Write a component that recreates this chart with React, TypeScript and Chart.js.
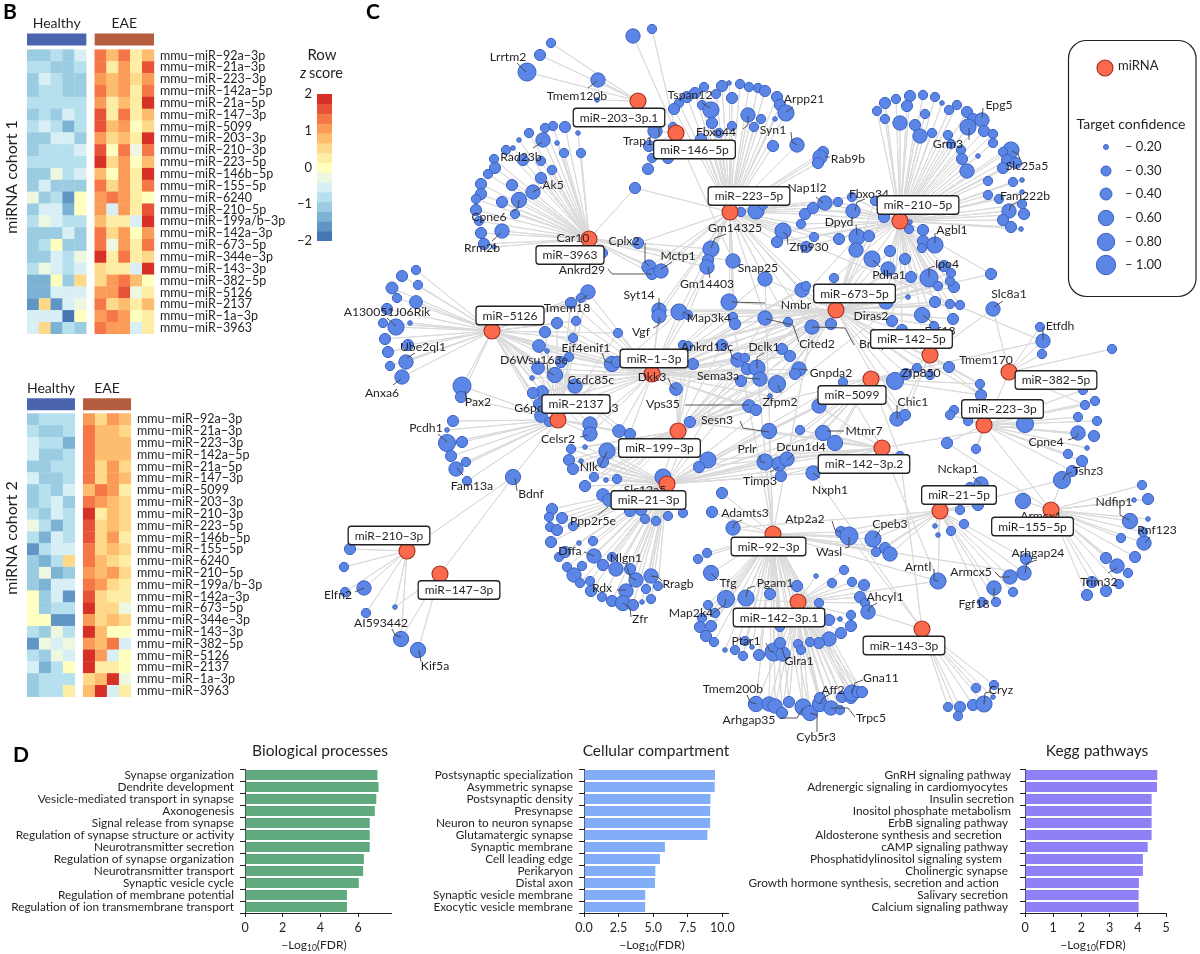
import React, { useEffect, useRef } from "react";
import { Chart, registerables } from "chart.js";
Chart.register(...registerables);

const FONT = "Lato";
const INK = "#231f20";

// ---------- Panel B ----------
const mirnaRows = ["mmu−miR−92a−3p","mmu−miR−21a−3p","mmu−miR−223−3p","mmu−miR−142a−5p","mmu−miR−21a−5p","mmu−miR−147−3p","mmu−miR−5099","mmu−miR−203−3p","mmu−miR−210−3p","mmu−miR−223−5p","mmu−miR−146b−5p","mmu−miR−155−5p","mmu−miR−6240","mmu−miR−210−5p","mmu−miR−199a/b−3p","mmu−miR−142a−3p","mmu−miR−673−5p","mmu−miR−344e−3p","mmu−miR−143−3p","mmu−miR−382−5p","mmu−miR−5126","mmu−miR−2137","mmu−miR−1a−3p","mmu−miR−3963"];
const heatPalette = ["#4575b4","#6095c5","#7cb3d4","#9bcce2","#b6e0ed","#d9eff6","#eef8e0","#ffffbf","#feeda4","#fed989","#fdbc6e","#fa9c58","#f57647","#e85337","#d73027"];
const zCohort1 = [
[-1.1,-1.1,-.9,-1.1,-.6,1.4,.9,1.4,.3,.9],
[-.9,-.9,-1.1,-1.1,-.9,1.4,.3,1.1,.3,1.7],
[-1.1,-.6,-.9,-1.1,-1.1,1.1,.9,1.1,.6,1.1],
[-1.1,-.9,-.9,-1.1,-1.1,1.4,.9,1.1,.3,1.4],
[-.9,-.9,-.9,-.9,-.9,1.1,.3,.9,.3,2],
[-1.1,-.9,-1.1,-.6,-.9,1.7,.3,1.4,.3,.9],
[-.9,-.6,-.9,-1.4,-.9,1.7,.9,1.1,0,.6],
[-1.1,-1.1,-.6,-.6,-1.1,1.1,.6,.9,.3,2],
[-1.1,-.9,-.9,-.9,-.6,1.7,0,1.4,-.3,1.4],
[-.9,-.9,-.9,-.9,-.9,2,.6,1.1,0,.9],
[-1.1,-1.1,-.3,-.9,-.6,.9,0,1.1,.3,2],
[-1.1,-.6,-1.1,-1.1,-1.1,1.4,.6,1.1,.3,1.4],
[-.3,-1.1,-.9,-1.7,0,1.1,1.4,1.1,.3,0],
[-1.1,-.6,-.6,-1.4,0,1.1,-.6,1.1,.3,1.7],
[-.9,-.3,-.6,-.9,-.9,.9,.3,.3,-.6,2],
[-1.1,-1.1,-1.1,-.6,-1.1,1.4,.6,1.1,0,1.1],
[-1.1,-.9,0,-1.1,-1.1,1.4,-.3,1.1,.3,1.4],
[-1.1,-1.1,-.6,-.9,-.3,2,.3,1.4,.3,.6],
[-.9,-.3,-.6,-.9,-.6,.6,.3,.3,-.6,2],
[-1.4,-1.4,0,-1.1,.6,.6,1.1,1.4,.9,0],
[-1.4,-1.4,-.6,-.6,-.6,1.1,1.1,1.7,-.3,.3],
[-1.7,.6,-1.7,-.6,-.3,1.4,.6,.9,.3,.9],
[-.6,-.6,-.6,-2,0,1.1,1.4,1.1,0,.3],
[-.6,.6,-1.4,-.9,-1.1,1.4,1.1,1.1,-.6,.3],
];
const zCohort2 = [
[-1.1,-.9,-.9,-.9,1.1,.6,1.1,.9],
[-.9,-1.1,-1.1,-.9,1.4,.9,.9,.6],
[-.6,-.9,-.9,-1.4,1.4,.9,.9,.9],
[-.6,-1.1,-1.1,-.9,1.4,.9,.9,.9],
[-1.1,-1.1,-.9,-.9,1.4,.6,1.1,.6],
[-.6,-1.1,-1.1,-.9,1.4,.6,1.1,.9],
[-1.1,-.9,-1.1,-.6,.9,1.4,1.1,.3],
[-1.1,-.9,-.6,-1.1,1.4,1.1,.9,.6],
[-.9,-1.1,-.6,-.9,2,.3,.9,.6],
[-.3,-.9,-1.4,-.9,1.7,.6,.9,.6],
[-.9,-1.4,-.6,-.9,1.7,.6,1.1,.3],
[-1.7,-.9,-.6,-.6,1.4,.6,.9,.6],
[-1.1,-1.4,-.9,.6,1.4,.9,.6,.3],
[-1.1,-.3,-1.4,-1.1,1.1,.9,1.1,.6],
[-1.1,-1.4,-.6,-.6,1.4,1.1,.6,.3],
[0,-1.1,-.6,-1.7,1.7,.6,.3,.3],
[0,-1.1,-.9,-.9,2,.6,.6,-.3],
[0,0,-1.7,-1.7,1.1,.6,.9,.6],
[-.9,-1.1,-.3,-.9,2,.9,0,0],
[-1.7,-.3,-.6,-.3,1.1,.9,1.4,-.6],
[-.9,-1.1,-.3,-.6,2,1.1,-.6,0],
[-.6,-1.4,-.9,0,2,.3,.3,0],
[-1.1,-.9,-.9,-.9,.6,.9,2,-.3],
[-1.1,-.9,-.9,.3,.9,2,-.6,.3],
];
const colorTicks = [-2,-1,0,1,2];

// ---------- Panel D ----------
const bpLabels = ["Synapse organization","Dendrite development","Vesicle-mediated transport in synapse","Axonogenesis","Signal release from synapse","Regulation of synapse structure or activity","Neurotransmitter secretion","Regulation of synapse organization","Neurotransmitter transport","Synaptic vesicle cycle","Regulation of membrane potential","Regulation of ion transmembrane transport"];
const bpValues = [7.03,7.09,6.97,6.89,6.62,6.62,6.62,6.31,6.27,6.04,5.41,5.41];
const ccLabels = ["Postsynaptic specialization","Asymmetric synapse","Postsynaptic density","Presynapse","Neuron to neuron synapse","Glutamatergic synapse","Synaptic membrane","Cell leading edge","Perikaryon","Distal axon","Synaptic vesicle membrane","Exocytic vesicle membrane"];
const ccValues = [9.47,9.45,9.14,9.12,9.12,8.92,5.85,5.49,5.16,5.13,4.42,4.42];
const keggLabels = ["GnRH signaling pathway ","Adrenergic signaling in cardiomyocytes  ","Insulin secretion","Inositol phosphate metabolism ","ErbB signaling pathway  ","Aldosterone synthesis and secretion    ","cAMP signaling pathway  ","Phosphatidylinositol signaling system    ","Cholinergic synapse  ","Growth hormone synthesis, secretion and action     ","Salivary secretion  ","Calcium signaling pathway  "];
const keggValues = [4.69,4.68,4.49,4.49,4.49,4.49,4.35,4.18,4.18,4.04,4.03,4.03];

// ---------- Panel C: hubs ----------
const hubNames = ["miR−203−3p.1","miR−146−5p","miR−223−5p","miR−210−5p","miR−3963","miR−5126","miR−673−5p","miR−142−5p","miR−1−3p","miR−5099","miR−382−5p","miR−223−3p","miR−2137","miR−199−3p","miR−142−3p.2","miR−21−3p","miR−21−5p","miR−155−5p","miR−92−3p","miR−210−3p","miR−147−3p","miR−142−3p.1","miR−143−3p"];
const hubX = [638,676,730,900,589,492,836,930,652,871,1009,984,558,678,882,667,940,1051,773,407,440,798,922];
const hubY = [101,133,212,221,239,331,310,355,374,379,372,425,420,431,448,484,511,510,534,551,574,602,629];
const boxX = [619,694.5,749,918,570,510,854.5,911.5,654,852,1056,1002.5,576,659.5,864,648.5,959,1032.5,768.5,389,459,779,904];
const boxY = [117.5,149.5,196,205,255,315.5,293.5,339,358.5,395,380,409,404,448,464,500,495,526.5,546.5,535.5,590,617.5,645.5];

// target nodes [x, y, confidence], grouped by the hubs they link to
const n203 = [[551,43,.3],[540,55,.4],[527,72,1],[598,80,.6],[597,100,.2]];
const n146 = [[652,29,.3],[633,36,.6],[673,127,.3],[655,131,.6],[649,146,.4],[652,158,.3],[648,169,.4],[668,158,.4]];
const nArc = [[704,87,.3],[722,86,.4],[729,83,.2],[740,84,.3],[749,87,.3],[758,88,.3],[765,91,.4],[777,97,.4],[780,105,.4],[786,113,.8],[775,119,.2],[761,119,.3],[754,127,.3],[748,115,.6],[732,98,.4],[716,94,.3],[695,93,.4],[687,97,.4],[679,103,.3],[674,109,.4],[702,105,.3],[711,110,.8],[712,123,.4],[732,126,.3],[719,133,.3],[701,139,.4],[741,212,.3],[756,211,.8],[763,205,.3],[773,146,.4],[797,145,.6],[823,152,.4],[820,157,.6],[818,163,.4]];
const nUp = [[805,214,.4],[813,208,.4],[825,203,.6],[838,202,.3],[783,231,.8],[777,242,.4],[801,224,.3],[814,237,.3],[839,239,.4],[806,247,.4],[852,197,.3],[853,211,.6]];
const n210fan = [[877,111,.3],[885,103,.4],[896,99,.3],[910,96,.4],[923,95,.3],[935,97,.3],[942,103,.2],[949,110,.3],[957,105,.3],[967,112,.4],[973,119,.4],[982,120,.6],[968,127,.8],[984,131,.4],[993,134,.3],[993,143,.3],[885,119,.3],[900,123,.6],[907,106,.4],[925,114,.3],[915,125,.4],[920,136,.6],[932,133,.3],[948,135,.3],[951,144,.3],[961,150,.3],[962,159,.4],[978,156,.2],[967,171,.6],[1011,150,.8],[1003,152,.3],[1007,160,.4],[1016,163,.4],[1003,168,.4],[988,181,.3],[1013,182,.3],[1022,180,.2],[1022,192,.2],[988,195,.3],[999,199,.3],[1022,204,.3],[1009,211,.6],[1024,214,.4],[1003,220,.4],[1011,227,.4],[1021,229,.2],[910,222,.2],[909,229,.3],[923,230,.4],[923,241,.4],[922,248,.3],[935,245,.8],[991,274,.4]];
const n210mid = [[875,201,.3],[884,217,.4],[857,237,.8],[869,236,.4],[856,250,.6],[872,259,.8],[890,251,.4],[905,259,.4],[888,269,.6],[911,277,.4],[929,278,1],[834,278,.3],[886,302,.6],[908,297,.2],[938,286,.3],[935,302,.4],[950,304,.3],[960,305,.3],[954,287,.4],[950,281,.3],[951,273,.3],[944,266,.4],[922,315,.7],[892,321,.4],[953,319,.4],[934,326,.3],[902,330,.4]];
const n3963 = [[565,127,.4],[553,126,.3],[545,128,.3],[529,133,.3],[543,140,.6],[519,140,.2],[578,133,.2],[557,143,.2],[506,150,.3],[513,148,.2],[564,153,.3],[581,153,.3],[523,160,.4],[541,161,.3],[494,159,.3],[495,168,.4],[552,170,.3],[488,174,.3],[541,178,.4],[512,185,.4],[481,184,.4],[481,194,.4],[533,192,.6],[476,199,.3],[502,202,.4],[519,200,.7],[476,210,.4],[515,214,.3],[479,221,.3],[481,233,.4],[502,231,.6],[484,244,.4],[494,247,.2],[603,253,.3]];
const nA = [[635,188,.4],[638,243,.4],[649,267,.6],[652,274,.4],[661,271,.6],[711,249,.8],[708,260,.4],[707,267,.6],[733,261,.6]];
const nB = [[729,302,.8],[679,312,.8],[688,315,.3],[659,310,.6],[659,316,.6],[733,317,.3],[735,324,.4],[765,279,.6],[802,290,.6],[806,286,.3],[765,318,.6],[788,322,.3],[812,327,.6],[831,324,.4]];
const nC = [[683,345,.3],[688,346,.3],[722,345,.4],[693,364,.4],[738,360,.6],[745,358,.3],[747,369,.4],[757,368,.8],[760,379,.6],[741,381,.4],[782,349,.4],[790,356,.4],[777,384,.9],[799,369,.6],[795,374,.4],[770,396,.2],[749,406,.5],[756,410,.4],[676,389,.5]];
const nD = [[819,406,.6],[823,433,.7],[835,443,.7],[800,430,.3],[769,431,.7],[708,460,.8],[699,467,.4],[765,462,.8],[779,464,.6],[787,459,.6],[781,476,.4],[813,473,.6],[690,422,.4],[843,382,.3],[900,456,.3]];
const nE = [[588,292,.6],[581,298,.3],[571,303,.4],[576,321,.3],[557,323,.4],[573,338,.3],[618,333,.3],[545,332,.4],[539,346,.5],[547,351,.2],[561,362,.4],[569,357,.3],[612,364,.7],[617,362,.4],[555,375,.7],[575,386,.6],[538,368,.5],[532,378,.2],[542,392,.5],[533,393,.4],[539,404,.4],[541,416,.5],[549,422,.3],[590,424,.6],[590,434,.6],[619,431,.5],[630,434,.4]];
const n5126 = [[416,270,.3],[402,276,.4],[392,288,.45],[418,285,.3],[397,298,.3],[416,302,.5],[387,309,.4],[396,327,.8],[383,323,.3],[410,323,.2],[385,339,.4],[388,352,.4],[408,345,.4],[406,362,.6],[390,366,.3],[402,377,.6]];
const nPax = [[462,386,1],[461,397,.4]];
const n2137 = [[453,421,.4],[447,430,.2],[462,442,.4],[447,443,.9],[451,456,.4],[466,462,.3],[456,469,.6],[467,481,.3]];
const nBdnf = [[513,477,.7]];
const n210l = [[350,549,.4],[344,567,.3],[364,588,.6],[345,592,.3],[366,613,.3]];
const n147 = [[395,607,.2],[401,639,.7]];
const n147b = [[418,650,.7]];
const n199a = [[571,449,.3],[585,447,.2],[607,451,.8],[603,462,.4],[569,460,.4],[581,461,.2],[573,469,.4],[594,477,.3],[606,480,.2],[617,479,.3],[585,486,.4],[603,495,.5],[609,500,.5],[663,477,.8]];
const n21a = [[630,511,.4],[641,510,.4],[645,519,.3],[656,521,.3],[668,516,.3],[683,513,.3],[552,509,.4],[549,517,.3],[562,518,.4],[550,527,.3],[557,530,.4],[573,526,.3],[551,542,.4],[579,543,.2],[593,541,.3],[559,557,.3],[565,552,.4],[594,556,.6],[612,557,.3],[567,567,.3],[582,566,.3],[574,575,.6],[603,565,.4],[616,569,.6],[630,569,.4],[636,580,.6],[651,576,.6],[658,586,.3],[646,589,.3],[651,599,.3],[590,581,.3],[580,583,.3],[591,591,.4],[626,591,.6],[602,597,.3],[612,601,.4],[623,603,.7],[633,605,.4],[642,602,.2]];
const n92 = [[722,493,.4],[712,512,.4],[733,528,.6],[707,553,.3],[698,559,.3],[711,573,.7],[726,599,.9],[746,598,.8],[708,605,.3],[715,613,.3],[702,618,.3],[700,627,.4],[711,626,.4],[706,636,.4],[714,642,.3],[725,650,.2],[735,650,.3],[743,656,.3],[752,647,.2],[759,655,.4],[745,641,.3],[770,594,.4],[774,652,1],[783,654,.6],[780,643,.4],[780,627,.3]];
const n142a = [[798,644,.3],[801,650,.3],[797,586,.4],[819,603,.3],[844,570,.3],[816,576,.2],[832,583,.3],[852,582,.3],[864,585,.4],[860,597,.4],[865,603,.3],[851,615,.3],[840,619,.2],[829,620,.4],[851,626,.4],[841,633,.4],[829,639,.6],[819,643,.4],[810,642,.3]];
const nBottom = [[756,704,.7],[769,704,.6],[775,706,.6],[782,713,.4],[789,702,.4],[803,707,.8],[810,713,.7],[820,704,.7],[820,698,.4],[831,708,.6],[840,710,.3],[842,697,.4],[851,698,.4],[852,693,.8],[857,692,.4],[862,692,.4]];
const n143 = [[948,707,.3],[960,707,.4],[958,716,.3],[973,705,.4],[984,704,.8],[993,697,.2],[994,685,.3],[976,688,.3],[868,612,.6]];
const n142e = [[895,381,.9],[906,374,.4],[917,368,.3],[930,375,.3],[949,367,.4],[897,419,.6],[905,415,.4],[980,384,.3],[981,395,.4]];
const n382 = [[1040,327,.3],[1043,341,.6],[1042,354,.3],[1112,349,.3],[993,309,.6]];
const n223 = [[1083,390,.3],[1085,405,.3],[1095,401,.3],[1078,417,.3],[1097,421,.3],[1078,433,.6],[1094,436,.4],[1087,448,.2],[1068,454,.3],[1082,461,.4],[1072,471,.4],[1025,424,.9],[968,421,.3],[954,410,.3],[950,415,.3],[947,443,.4],[976,449,.3]];
const n155 = [[1142,485,.3],[1148,499,.4],[1134,500,.2],[1130,521,.7],[1148,519,.2],[1121,538,.3],[1144,543,.6],[1143,532,.3],[1135,557,.4],[1106,558,.4],[1117,566,.6],[1128,573,.3],[1092,582,.4],[1119,584,.3],[1106,591,.4],[1087,595,.4],[1023,501,.7],[1062,480,.9]];
const n21b = [[981,484,.6],[970,487,.3],[978,505,.4],[960,510,.3],[964,524,.3],[935,526,.2],[938,535,.2],[951,531,.3],[1026,559,.4],[1024,573,.6],[1010,577,.6],[1013,592,.3],[994,588,.6],[996,602,.3],[982,602,.3]];
const n92r = [[841,532,.4],[849,536,1],[873,539,.8],[885,548,.4],[890,554,.6],[876,552,.3],[938,581,.8]];

// which miRNAs each node group links to
const nodeGroups = [
  { hubs: [0], nodes: n203 },
  { hubs: [1], nodes: n146 },
  { hubs: [2], nodes: nArc },
  { hubs: [2, 3], nodes: nUp },
  { hubs: [3], nodes: n210fan },
  { hubs: [3, 6], nodes: n210mid },
  { hubs: [4], nodes: n3963 },
  { hubs: [4, 2], nodes: nA },
  { hubs: [2, 6, 8], nodes: nB },
  { hubs: [8, 6, 13], nodes: nC },
  { hubs: [9, 14, 15], nodes: nD },
  { hubs: [12, 5, 8], nodes: nE },
  { hubs: [5], nodes: n5126 },
  { hubs: [5, 12], nodes: nPax },
  { hubs: [12], nodes: n2137 },
  { hubs: [12, 19, 20], nodes: nBdnf },
  { hubs: [19], nodes: n210l },
  { hubs: [19, 20], nodes: n147 },
  { hubs: [20], nodes: n147b },
  { hubs: [13, 15], nodes: n199a },
  { hubs: [15], nodes: n21a },
  { hubs: [18], nodes: n92 },
  { hubs: [21], nodes: n142a },
  { hubs: [18, 21], nodes: nBottom },
  { hubs: [22], nodes: n143 },
  { hubs: [7, 9, 6], nodes: n142e },
  { hubs: [10], nodes: n382 },
  { hubs: [11], nodes: n223 },
  { hubs: [17], nodes: n155 },
  { hubs: [16], nodes: n21b },
  { hubs: [18, 16], nodes: n92r },
];
// extra long links [hub index, x, y]
const crossLinks = [[18,729,302],[18,765,279],[8,707,267],[15,834,278],[13,857,237],[13,872,259],[15,765,318],[18,812,327],[18,757,368],[18,769,431],[18,765,462],[15,929,278],[14,1025,424],[11,1051,510],[17,947,443],[7,993,309],[16,1062,480],[22,900,456],[22,813,473],[14,938,581],[21,938,581],[16,733,528],[18,1024,573],[12,679,312],[13,777,384],[15,823,433],[9,1043,341],[6,991,274],[2,1043,341],[0,676,133],[1,733,261],[10,1085,405],[10,976,449],[5,588,292],[21,726,599],[22,849,536]];

// gene labels: [text, centre x, centre y, ...leader polyline x,y]
const geneLabels: any[] = [
["Lrrtm2",508,57,517,63,526,72],["Tmem120b",577,96,588,88,597,81],["Tspan12",690,95,702,103,710,108],["Arpp21",804,99,793,107,786,112],["Fbxo44",716,132,743,129,748,125,748,116],["Trap1",638,141,659,127,659,137],["Syn1",773,130,791,132,792,142,797,145],["Rab9b",848,159,825,157,830,157],["Rad23b",521,157,533,148,542,142],["Ak5",553,185,542,187,533,192],["Cpne6",489,217,512,212,518,208,519,200],["Rrm2b",482,248,492,241,501,233],["Car10",573,238],["Cplx2",624,241,645,243,645,262,649,266],["Mctp1",678,256,672,262,661,269],["Gm14325",735,228,726,234,715,238,711,248],["Ankrd29",582,270,608,269,612,274,652,274],["Nap1l2",807,188,816,197,823,203],["Fbxo34",869,194,865,199,857,202,855,211],["Dpyd",839,222,856,225,857,235],["Zfp930",809,247,788,245,787,235,783,232],["Snap25",758,268],["Gm14403",707,284,710,278,708,267],["Syt14",639,295,659,298,659,308],["Nmbr",796,305,732,302,765,303],["Map3k4",709,318,683,312,693,317],["Agbl1",952,230,935,233,935,243],["Ipo4",947,264,935,266,929,268,929,277],["Pdha1",889,275,880,267,873,260],["Slc8a1",1009,294,1003,301,994,307],["Etfdh",1060,326,1043,327,1043,340],["Epg5",999,105,983,108,982,118],["Grm3",948,144,969,140,969,128],["Slc25a5",1027,166,1020,159,1018,154,1012,151],["Fam222b",1025,196,1018,202,1011,205,1009,211],["Diras2",871,316],["Cited2",817,344,799,342,793,325,766,319],["Brinp3",877,344,854,345,845,328,812,327],["Fgf13",940,331,923,315,933,323],
["A130051J06Rik",387,312,387,318,396,326],["Ube2ql1",423,347,415,353,407,358],["Anxa6",382,393,393,385,401,379],["Tmem18",567,308,579,301,588,295],["D6Wsu163e",534,360,547,362,548,372,554,375],["Vgf",641,332,653,328,659,325,659,317],["Eif4enif1",586,348,602,353,605,361,612,363],["Ankrd13c",707,347,730,349,732,357,738,360],["Dclk1",764,347,764,353,757,357,757,368],["Ccdc85c",591,380],["Dkk3",652,377,668,378,672,387,676,389],["Sema3a",718,376,746,378,760,379],["Gnpda2",831,373,808,370,799,369],["Zfpm2",780,402,781,393,778,385],["Tmem170",986,360],["Zfp850",921,373],["Pax2",478,402,465,391,467,402],["G6pdx",532,408],["Gria3",604,408],["Vps35",663,404,685,405,749,405],["Sesn3",717,420,740,421,743,428,769,432],["Chic1",913,402,897,405,897,419],["Mtmr7",864,431,827,431,844,431],["Cpne4",1046,442,1068,440,1077,437,1078,433],["Celsr2",558,439,580,437,588,435],["Pcdh1",426,428,438,434,447,442],["Prlr",747,449,760,455,760,461,765,463],["Dcun1d4",801,447,793,455,787,460],["Tshz3",1088,471,1072,472,1065,475,1063,480],["Nckap1",958,469,973,477,981,484],["Nxph1",830,490,820,478,813,473],["Timp3",760,481,770,472,779,467],["Nlk",589,467,600,466,607,452],["Fam13a",472,486,463,475,457,468],["Bdnf",531,494,517,491,515,478],["Ndfip1",1114,502,1120,507,1120,515,1129,520],["Rnf123",1157,530,1150,537,1145,543],["Ppp2r5e",593,521,598,515,608,507],["Atp2a2",805,519,832,521,835,530,841,532],["Cpeb3",890,524,880,530,875,538],["Adamts3",745,513,742,520,735,523,733,528],["Wasl",829,552,845,548,849,547,849,537],["Slc12a5",645,490],["Armcx1",1041,516],["Dffa",570,551,584,552,594,556],["Nlgn1",626,558,626,564,630,577,636,580],["Rragb",678,584,662,581,658,577,651,576],["Rdx",602,588,617,590,626,590],["Zfr",640,619,631,617,630,608,623,603],["Arhgap24",1038,553,1037,560,1027,563,1025,573],["Armcx5",971,572,995,572,1000,577,1010,577],["Arntl",918,567,934,569,934,580,938,581],["Fgf18",974,604,994,599,994,588],["Trim32",1099,582,1108,573,1117,568],["Tfg",728,583,718,580,711,573],["Pgam1",775,583,755,586,748,588,746,597],["Map2k4",691,613,713,613,725,605,726,599],["Ahcyl1",885,597,877,603,870,607,868,612],["Ptar1",746,641,766,643,770,651,774,652],["Glra1",799,661,782,648,785,658],["Elfn2",338,595,355,592,364,588],["AI593442",381,623,392,629,395,635,401,637],["Kif5a",435,666,421,662,419,650],["Tmem200b",733,689,747,695,750,702,756,704],["Arhgap35",749,720,780,718,797,718,803,708],["Cyb5r3",816,737,817,732,817,715,810,713],["Aff2",833,690,832,693,823,698,820,704],["Gna11",881,678,863,680,855,683,852,693],["Trpc5",871,718,855,717,848,708,831,708],["Cryz",1001,690,990,692,985,693,984,704],
];

const legendConf = [.2,.3,.4,.6,.8,1];
const legendText = ["– 0.20","– 0.30","– 0.40","– 0.60","– 0.80","– 1.00"];
const legendY = [147,171,194,218,242,265];
const confStops = [.2,.3,.4,.6,.8,1];
const confRadii = [2.5,5,6,7.7,8.7,9.7];
const rOf = (c: number) => {
  for (let i = 1; i < confStops.length; i++) {
    if (c <= confStops[i]) {
      const t = (c - confStops[i-1]) / (confStops[i] - confStops[i-1]);
      return confRadii[i-1] + t * (confRadii[i] - confRadii[i-1]);
    }
  }
  return confRadii[confRadii.length-1];
};
const zColor = (z: number) => heatPalette[Math.round((z + 2) * 3.5)];

function text(ctx: any, s: string, x: number, y: number, font: string, align = "center", color = INK) {
  ctx.font = font; ctx.textAlign = align; ctx.textBaseline = "middle"; ctx.fillStyle = color;
  ctx.fillText(s, x, y);
}

const networkPlugin = {
  id: "networkText",
  afterDatasetsDraw(chart: any) {
    const { ctx } = chart;
    const X = (v: number) => chart.scales.x.getPixelForValue(v);
    const Y = (v: number) => chart.scales.y.getPixelForValue(v);
    ctx.save();
    // leaders
    ctx.strokeStyle = "#444"; ctx.lineWidth = 0.9;
    geneLabels.forEach((g) => {
      if (g.length < 5) return;
      ctx.beginPath(); ctx.moveTo(X(g[3]), Y(g[4]));
      for (let i = 5; i < g.length; i += 2) ctx.lineTo(X(g[i]), Y(g[i+1]));
      ctx.stroke();
    });
    geneLabels.forEach((g) => text(ctx, g[0], X(g[1]), Y(g[2]), `12.2px ${FONT}`));
    // miRNA boxes
    hubNames.forEach((n, i) => {
      ctx.font = `12px ${FONT}`;
      const w = ctx.measureText(n).width + 13, h = 18.5;
      ctx.beginPath();
      ctx.roundRect(X(boxX[i]) - w/2, Y(boxY[i]) - h/2, w, h, 3);
      ctx.fillStyle = "#fff"; ctx.fill();
      ctx.strokeStyle = "#222"; ctx.lineWidth = 1.3; ctx.stroke();
      text(ctx, n, X(boxX[i]), Y(boxY[i]) + .5, `12px ${FONT}`);
    });
    // legend
    text(ctx, "miRNA", 1118, 66, `13px ${FONT}`, "left");
    text(ctx, "Target confidence", 1131, 124, `14px ${FONT}`);
    legendText.forEach((s, i) => text(ctx, s, 1125, legendY[i], `13px ${FONT}`, "left"));
    // page text
    text(ctx, "B", 10, 12, `bold 21px ${FONT}`, "center", "#000");
    text(ctx, "C", 373, 12, `bold 21px ${FONT}`, "center", "#000");
    text(ctx, "D", 21, 755, `bold 21px ${FONT}`, "center", "#000");
    text(ctx, "Row", 322, 55, `15px ${FONT}`);
    text(ctx, "z", 303, 73, `italic 14.5px ${FONT}`);
    text(ctx, "score", 309, 73, `14.5px ${FONT}`, "left");
    [["miRNA cohort 1", 177], ["miRNA cohort 2", 538]].forEach(([s, y]: any) => {
      ctx.save(); ctx.translate(12, y); ctx.rotate(-Math.PI/2);
      text(ctx, s, 0, 0, `16px ${FONT}`); ctx.restore();
    });
    ctx.restore();
  },
  beforeDatasetsDraw(chart: any) {
    const { ctx } = chart;
    ctx.save();
    ctx.beginPath();
    ctx.roundRect(1068.5, 40.5, 127.5, 256, 18);
    ctx.strokeStyle = "#222"; ctx.lineWidth = 1.2; ctx.stroke();
    ctx.restore();
  },
};

function buildNetwork(canvas: HTMLCanvasElement) {
  const byHub: any[][] = hubNames.map((_, i) => [{ x: hubX[i], y: hubY[i] }]);
  const link = (h: number, x: number, y: number) => {
    byHub[h].push({ x, y }, { x: hubX[h], y: hubY[h] });
  };
  const nodes: any[] = [];
  nodeGroups.forEach((g) => g.nodes.forEach(([x, y, c]) => {
    nodes.push({ x, y, r: rOf(c) * .93 });
    g.hubs.forEach((h) => link(h, x, y));
  }));
  crossLinks.forEach(([h, x, y]) => link(h, x, y));
  const edgeSets = byHub.map((data) => ({
    type: "line", data, borderColor: "#dadada", borderWidth: 1, pointRadius: 0, fill: false, order: 10, tension: 0,
  }));
  return new Chart(canvas, {
    type: "bubble",
    data: {
      datasets: [
        ...edgeSets,
        { data: nodes, backgroundColor: "#5b86e6", borderColor: "#3c62c4", borderWidth: 1, order: 5 },
        { data: legendConf.map((c, i) => ({ x: 1106, y: legendY[i], r: rOf(c) })), backgroundColor: "#5b86e6", borderColor: "#3c62c4", borderWidth: 1, order: 4 },
        { data: hubX.map((x, i) => ({ x, y: hubY[i], r: 8 })), backgroundColor: "#fb6a4c", borderColor: "#a32c20", borderWidth: 1.1, order: 3 },
        { data: [{ x: 1105, y: 68, r: 8 }], backgroundColor: "#fb6a4c", borderColor: "#a32c20", borderWidth: 1.1, order: 3 },
      ] as any,
    },
    options: {
      responsive: false, animation: false, events: [],
      layout: { padding: 0, autoPadding: false },
      plugins: { legend: { display: false }, tooltip: { enabled: false } },
      scales: {
        x: { type: "linear", min: 0, max: 1200, display: false },
        y: { type: "linear", min: 0, max: 954, reverse: true, display: false },
      },
    },
    plugins: [networkPlugin],
  } as any);
}

const noMargins = (s: any) => { s.paddingTop = 0; s.paddingBottom = 0; s.paddingLeft = 0; s.paddingRight = 0; };

function buildHeat(canvas: HTMLCanvasElement, z: number[][], nH: number, gap: number, barY: number, textY: number) {
  const nCols = z[0].length;
  const colX = (j: number) => (j >= nH ? j + gap : j);
  const cells: any[] = [];
  z.forEach((row, i) => row.forEach((v, j) => cells.push({ x: colX(j), y: i, z: v })));
  const xMax = nCols + gap - .5;
  const eaeStart = nH + gap - .5;
  const heatText = {
    id: "heatText",
    afterDatasetsDraw(c: any) {
      const X = (v: number) => c.scales.x.getPixelForValue(v);
      const Y = c.scales.y.getPixelForValue(textY);
      text(c.ctx, "Healthy", X((nH - 1) / 2), Y, `14px ${FONT}`);
      text(c.ctx, "EAE", X((eaeStart + xMax) / 2), Y, `14px ${FONT}`);
    },
  };
  return new Chart(canvas, {
    type: "scatter",
    data: {
      datasets: [
        { data: cells, pointStyle: "rect", clip: false, borderWidth: 0, pointBorderWidth: 0,
          pointBackgroundColor: (c: any) => zColor(c.raw.z),
          pointRadius: (c: any) => (Math.abs(c.chart.scales.y.getPixelForValue(1) - c.chart.scales.y.getPixelForValue(0)) + .35) / Math.SQRT2 },
        { type: "line", data: [{ x: -.5, y: barY }, { x: nH - .5, y: barY }], borderColor: "#4a65ad", borderWidth: 12, pointRadius: 0, borderCapStyle: "butt" },
        { type: "line", data: [{ x: eaeStart, y: barY }, { x: xMax, y: barY }], borderColor: "#b55d3f", borderWidth: 12, pointRadius: 0, borderCapStyle: "butt" },
      ] as any,
    },
    options: {
      responsive: false, animation: false, events: [],
      layout: { padding: 0, autoPadding: false },
      plugins: { legend: { display: false }, tooltip: { enabled: false } },
      scales: {
        x: { type: "linear", min: -.5, max: xMax, display: false },
        y: {
          type: "linear", position: "right", min: -3.5, max: 23.5, reverse: true,
          grid: { display: false, drawTicks: false }, border: { display: false },
          afterBuildTicks: (s: any) => { s.ticks = mirnaRows.map((_, i) => ({ value: i })); },
          afterFit: (s: any) => { s.width = 132; noMargins(s); },
          ticks: { autoSkip: false, padding: 6, color: INK, font: { family: FONT, size: 12.5 }, callback: (v: any) => mirnaRows[v] },
        },
      },
    },
    plugins: [heatText],
  } as any);
}

function buildColorbar(canvas: HTMLCanvasElement) {
  const n = heatPalette.length, step = 4 / n;
  return new Chart(canvas, {
    type: "bar",
    data: {
      labels: ["z"],
      datasets: [{
        data: heatPalette.map((_, i) => ({ x: "z", y: [-2 + i * step, -2 + (i + 1) * step + .01] })),
        backgroundColor: heatPalette, barPercentage: 1, categoryPercentage: 1, borderWidth: 0,
      }],
    },
    options: {
      responsive: false, animation: false, events: [],
      layout: { padding: { top: 6, bottom: 6 }, autoPadding: false },
      plugins: { legend: { display: false }, tooltip: { enabled: false } },
      scales: {
        x: { display: false },
        y: {
          min: -2, max: 2, grid: { display: false, drawTicks: false }, border: { display: false },
          afterBuildTicks: (s: any) => { s.ticks = colorTicks.map((value) => ({ value })); },
          afterFit: (s: any) => { s.width = 27; noMargins(s); },
          ticks: { padding: 5, color: INK, font: { family: FONT, size: 13 }, callback: (v: any) => String(v).replace("-", "−") },
        },
      },
    },
  } as any);
}

function buildBars(canvas: HTMLCanvasElement, title: string, titleX: number, axisX: number, labels: string[], values: number[], color: string, xMax: number, step: number, decimals: number, yWidth: number, rightPad: number) {
  const barText = {
    id: "barText",
    afterDraw(c: any) {
      const ctx = c.ctx;
      text(ctx, title, titleX, 11, `15.5px ${FONT}`);
      ctx.font = `12px ${FONT}`;
      const a = "−Log", b = "10", d = "(FDR)";
      const wa = ctx.measureText(a).width, wd = ctx.measureText(d).width;
      ctx.font = `8.5px ${FONT}`;
      const wb = ctx.measureText(b).width;
      let x = axisX - (wa + wb + wd) / 2;
      text(ctx, a, x, 205, `12px ${FONT}`, "left"); x += wa;
      text(ctx, b, x, 208, `8.5px ${FONT}`, "left"); x += wb;
      text(ctx, d, x, 205, `12px ${FONT}`, "left");
    },
  };
  return new Chart(canvas, {
    type: "bar",
    data: { labels, datasets: [{ data: values, backgroundColor: color, barPercentage: .82, categoryPercentage: 1 }] },
    options: {
      indexAxis: "y", responsive: false, animation: false, events: [],
      layout: { padding: { top: 29, right: rightPad }, autoPadding: false },
      plugins: { legend: { display: false }, tooltip: { enabled: false } },
      scales: {
        y: {
          grid: { display: true, drawOnChartArea: false, drawTicks: true, tickLength: 5, color: INK, lineWidth: 1 },
          border: { display: true, color: INK, width: 1 },
          afterFit: (s: any) => { s.width = yWidth; noMargins(s); },
          ticks: { autoSkip: false, padding: 6, color: INK, font: { family: FONT, size: 11.8 } },
        },
        x: {
          min: 0, max: xMax,
          grid: { display: true, drawOnChartArea: false, drawTicks: true, tickLength: 4, color: INK, lineWidth: 1 },
          border: { display: true, color: INK, width: 1 },
          afterFit: (s: any) => { s.height = 41; noMargins(s); },
          ticks: { stepSize: step, includeBounds: false, maxRotation: 0, padding: 3, color: INK, font: { family: FONT, size: 12.5 },
            callback: (v: any) => Number(v).toFixed(decimals) },
        },
      },
    },
    plugins: [barText],
  } as any);
}

const abs = (left: number, top: number): React.CSSProperties => ({ position: "absolute", left, top, display: "block" });

export default function App() {
  const net = useRef<HTMLCanvasElement>(null);
  const h1 = useRef<HTMLCanvasElement>(null);
  const h2 = useRef<HTMLCanvasElement>(null);
  const cb = useRef<HTMLCanvasElement>(null);
  const bp = useRef<HTMLCanvasElement>(null);
  const cc = useRef<HTMLCanvasElement>(null);
  const kg = useRef<HTMLCanvasElement>(null);
  useEffect(() => {
    const charts = [
      buildNetwork(net.current!),
      buildHeat(h1.current!, zCohort1, 5, .7, -1.345, -2.7),
      buildHeat(h2.current!, zCohort2, 4, .67, -1.287, -2.59),
      buildColorbar(cb.current!),
      buildBars(bp.current!, "Biological processes", 320, 314, bpLabels, bpValues, "#5fa97d", 7.75, 2, 0, 245, 5),
      buildBars(cc.current!, "Cellular compartment", 256, 252, ccLabels, ccValues, "#82aef8", 10.41, 2.5, 1, 184, 15),
      buildBars(kg.current!, "Kegg pathways", 397, 393, keggLabels, keggValues, "#8e81f6", 5, 1, 0, 325, 5),
    ];
    return () => charts.forEach((c) => c.destroy());
  }, []);
  return (
    <div style={{ position: "absolute", left: 0, top: 0, width: 1200, height: 954, overflow: "hidden", background: "#fff" }}>
      <canvas ref={net} width={1200} height={954} style={abs(0, 0)} />
      <canvas ref={h1} width={259} height={320} style={abs(27, 14)} />
      <canvas ref={h2} width={236} height={319} style={abs(27, 378)} />
      <canvas ref={cb} width={42} height={159} style={abs(290, 88)} />
      <canvas ref={bp} width={396} height={214} style={abs(0, 740)} />
      <canvas ref={cc} width={343} height={214} style={abs(400, 740)} />
      <canvas ref={kg} width={471} height={214} style={abs(700, 740)} />
    </div>
  );
}
